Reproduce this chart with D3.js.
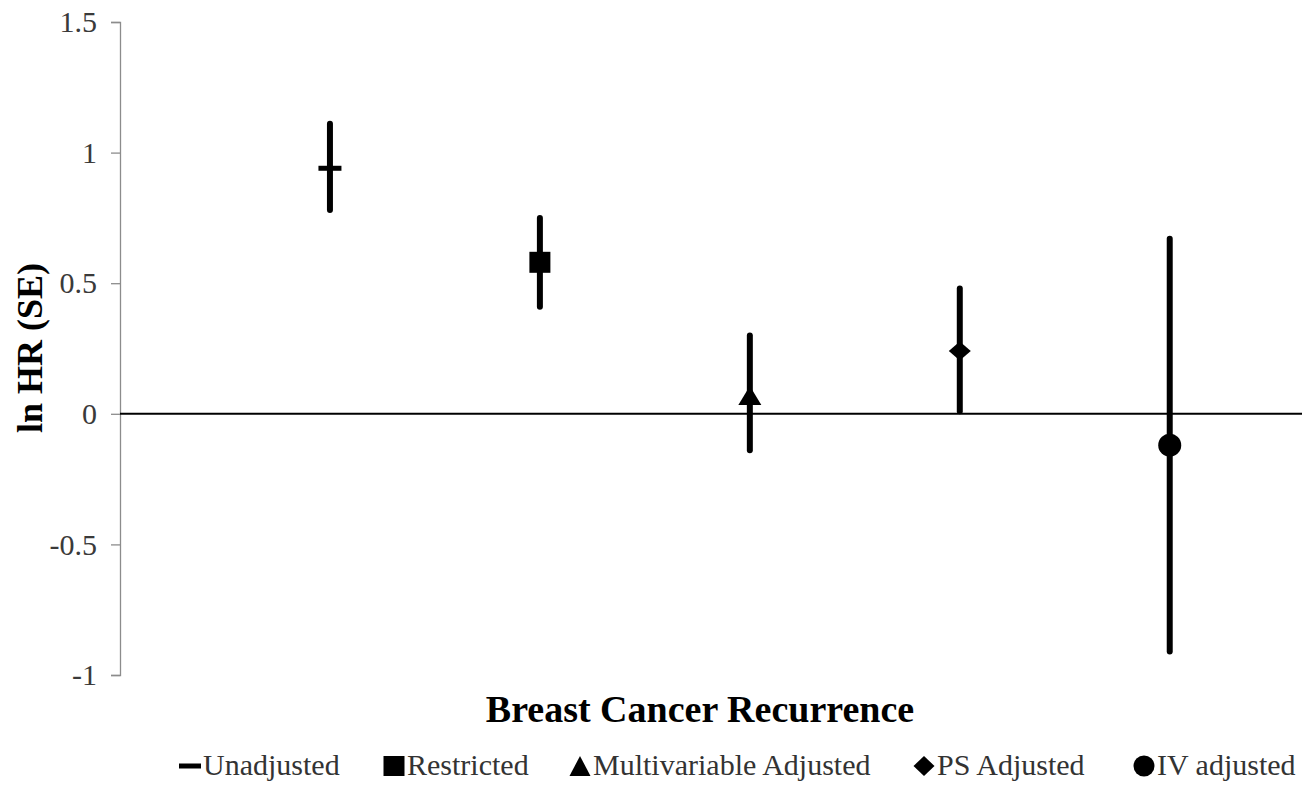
<!DOCTYPE html>
<html>
<head>
<meta charset="utf-8">
<script src="https://cdn.jsdelivr.net/npm/d3@7"></script>
<style>
  body { margin: 0; background: #fff; }
  svg { display: block; }
</style>
</head>
<body>
<div id="chart"></div>
<script>
// estimates (ln HR and the ends of its bar) for each model
const models = ["Unadjusted", "Restricted", "Multivariable Adjusted", "PS Adjusted", "IV adjusted"];
const symbols = ["dash", "square", "triangle", "diamond", "circle"];
const lnHR = [0.94, 0.58, 0.07, 0.24, -0.12];
const lower = [0.78, 0.41, -0.14, 0.01, -0.91];
const upper = [1.11, 0.75, 0.30, 0.48, 0.67];
const yTicks = [-1, -0.5, 0, 0.5, 1, 1.5];

const serif = "Times New Roman, Liberation Serif, DejaVu Serif, serif";
const width = 1316, height = 787;
const margin = {top: 22, right: 14, bottom: 112, left: 120};

const svg = d3.select("#chart").append("svg")
  .attr("width", width)
  .attr("height", height)
  .attr("font-family", serif);

const x = d3.scaleLinear()
  .domain([0, 5.63])
  .range([margin.left, width - margin.right]);

const y = d3.scaleLinear()
  .domain([-1, 1.5])
  .range([height - margin.bottom, margin.top]);

// y axis
const yAxis = svg.append("g")
  .attr("transform", "translate(" + margin.left + ",0)")
  .call(d3.axisLeft(y).tickValues(yTicks).tickSize(9).tickPadding(14)
    .tickFormat(d => String(d)));
yAxis.attr("font-family", serif).attr("font-size", 30);
yAxis.select(".domain").attr("stroke", "#8c8c8c").attr("stroke-width", 1.3);
yAxis.selectAll(".tick line").attr("stroke", "#8c8c8c").attr("stroke-width", 1.3);
yAxis.selectAll(".tick text").attr("fill", "#3a3a3a");

// zero line
svg.append("line")
  .attr("x1", x(0)).attr("x2", x(5.63))
  .attr("y1", y(0)).attr("y2", y(0))
  .attr("stroke", "#000")
  .attr("stroke-width", 2);

// axis titles
svg.append("text")
  .attr("transform", "translate(42,348) rotate(-90)")
  .attr("text-anchor", "middle")
  .attr("font-size", 36)
  .attr("font-weight", "bold")
  .text("ln HR (SE)");

svg.append("text")
  .attr("x", 700)
  .attr("y", 722)
  .attr("text-anchor", "middle")
  .attr("font-size", 38)
  .attr("font-weight", "bold")
  .text("Breast Cancer Recurrence");

// marker shapes, w = width, h = height
function drawMarker(g, type, w, h) {
  if (type === "dash") {
    g.append("rect").attr("x", -w / 2).attr("y", -2.5).attr("width", w).attr("height", 5);
  } else if (type === "square") {
    g.append("rect").attr("x", -w / 2).attr("y", -h / 2).attr("width", w).attr("height", h);
  } else if (type === "triangle") {
    g.append("path").attr("d", "M0," + (-h / 2) + "L" + (w / 2) + "," + (h / 2) + "L" + (-w / 2) + "," + (h / 2) + "Z");
  } else if (type === "diamond") {
    g.append("path").attr("d", "M0," + (-h / 2) + "L" + (w / 2) + ",0L0," + (h / 2) + "L" + (-w / 2) + ",0Z");
  } else {
    g.append("circle").attr("r", w / 2);
  }
}

const sizes = {dash: [23, 5], square: [21, 21], triangle: [23, 19], diamond: [22, 19], circle: [23, 23]};

const pts = svg.append("g").selectAll("g")
  .data(models)
  .join("g")
  .attr("transform", (d, i) => "translate(" + x(i + 1) + ",0)");

pts.append("line")
  .attr("y1", (d, i) => y(upper[i]))
  .attr("y2", (d, i) => y(lower[i]))
  .attr("stroke", "#000")
  .attr("stroke-width", 6)
  .attr("stroke-linecap", "round");

pts.each(function(d, i) {
  const g = d3.select(this).append("g")
    .attr("transform", "translate(0," + y(lnHR[i]) + ")")
    .attr("fill", "#000");
  const s = sizes[symbols[i]];
  drawMarker(g, symbols[i], s[0], s[1]);
});

// legend
const legendX = [179, 383, 569, 913, 1133];
const legend = svg.append("g").selectAll("g")
  .data(models)
  .join("g")
  .attr("transform", (d, i) => "translate(" + legendX[i] + ",766)");

legend.each(function(d, i) {
  const g = d3.select(this).append("g")
    .attr("transform", "translate(11,0)")
    .attr("fill", "#000");
  const s = symbols[i] === "dash" ? [22, 5] : [21, 20];
  drawMarker(g, symbols[i], s[0], s[1]);
});

legend.append("text")
  .attr("x", 24)
  .attr("y", 9)
  .attr("fill", "#333")
  .attr("font-size", 30)
  .text(d => d);
</script>
</body>
</html>
